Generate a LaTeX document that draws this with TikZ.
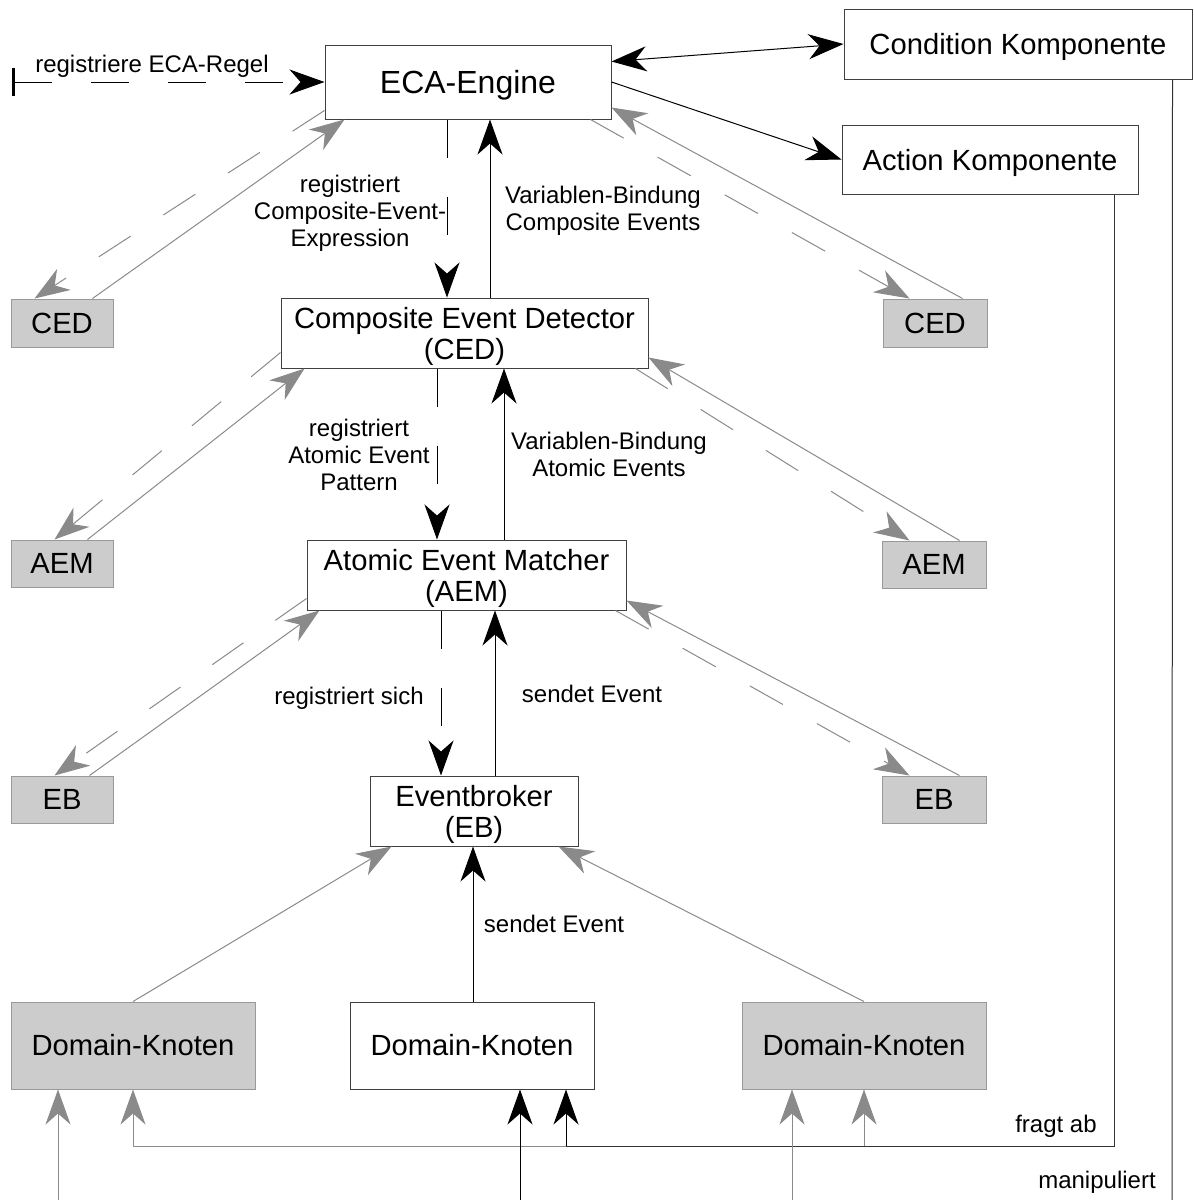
\documentclass[tikz,border=0pt]{standalone}
\usepackage{fontspec}
\setmainfont{Liberation Sans}
\usetikzlibrary{calc,arrows.meta}

\definecolor{boxGrey}{HTML}{CCCCCC}
\definecolor{boxLine}{HTML}{999999}
\definecolor{lineGrey}{HTML}{8A8A8A}

\tikzset{
	box/.style={draw=black!75, fill=white, line width=1pt, inner sep=0pt, align=center, font=\fontsize{29.2}{31}\selectfont},
	greybox/.style={box, draw=boxLine, fill=boxGrey},
	lbl/.style={inner sep=0pt, align=center, font=\fontsize{24}{27}\selectfont},
	pfeil/.style={line width=1pt, -{Stealth[length=35pt,width=25pt,inset=11pt]}},
	greypfeil/.style={pfeil, draw=lineGrey, line width=1pt},
	gestrichelt/.style={dash pattern=on 38pt off 39pt}
}

\begin{document}
\begin{tikzpicture}[x=1pt,y=-1pt]
			\useasboundingbox (0,0) rectangle (1194,1200);

%define nodes
			\node[box, minimum width=286pt, minimum height=74pt, text depth=0pt, font=\fontsize{32}{34}\selectfont] (eca) at (468,82) {ECA-Engine};
			\node[box, minimum width=348pt, minimum height=70pt, text depth=0pt] (cond) at (1018,44) {Condition Komponente};
			\node[box, minimum width=296pt, minimum height=69pt, text depth=0pt] (action) at (990,159.5) {Action Komponente};

			\node[box, minimum width=367pt, minimum height=70pt, text depth=0pt] (ced) at (464.5,333) {Composite Event Detector\\(CED)};
			\node[greybox, minimum width=102pt, minimum height=48pt] (cedL) at (62,323) {CED};
			\node[greybox, minimum width=104pt, minimum height=48pt] (cedR) at (935,323) {CED};

			\node[box, minimum width=319pt, minimum height=70pt, text depth=0pt] (aem) at (466.5,575) {Atomic Event Matcher\\(AEM)};
			\node[greybox, minimum width=102pt, minimum height=47pt] (aemL) at (62,563.5) {AEM};
			\node[greybox, minimum width=104pt, minimum height=47pt] (aemR) at (934,564.5) {AEM};

			\node[box, minimum width=208pt, minimum height=70pt, text depth=0pt] (eb) at (474,811) {Eventbroker\\(EB)};
			\node[greybox, minimum width=102pt, minimum height=47pt] (ebL) at (62,799.5) {EB};
			\node[greybox, minimum width=104pt, minimum height=47pt] (ebR) at (934,799.5) {EB};

			\node[greybox, minimum width=244pt, minimum height=87pt] (dkL) at (133,1045.5) {Domain-Knoten};
			\node[box, minimum width=244pt, minimum height=87pt] (dkM) at (472,1045.5) {Domain-Knoten};
			\node[greybox, minimum width=244pt, minimum height=87pt] (dkR) at (864,1045.5) {Domain-Knoten};

%define coordinates
			\coordinate (regStart) at (12,82);
			\coordinate (fragL) at (133,1146);
			\coordinate (fragM) at (566,1146);
			\coordinate (fragR) at (864,1146);
			\coordinate (maniL) at (58,1200);
			\coordinate (maniM) at (520,1200);
			\coordinate (maniR) at (792,1200);
			\coordinate (maniEnd) at (1172,1200);

%draw ECA-Engine arrows
			\draw[pfeil, gestrichelt, {Bar[width=28pt,line width=2.5pt]}-{Stealth[length=35pt,width=25pt,inset=11pt]}] (regStart) -- (eca.west);
			\draw[pfeil, {Stealth[length=35pt,width=25pt,inset=11pt]}-{Stealth[length=35pt,width=25pt,inset=11pt]}] ($(eca.north east)+(0,17)$) -- (cond.west);
			\draw[pfeil] (eca.east) -- (action.west);

			\draw[pfeil, gestrichelt] ($(eca.south)+(-21,0)$) -- ($(ced.north)+(-17.5,0)$);
			\draw[pfeil] ($(ced.north)+(25.5,0)$) -- ($(eca.south)+(22,0)$);
			\draw[greypfeil, gestrichelt] ($(eca.south west)+(0,-9)$) -- ($(cedL.north west)+(24,0)$);
			\draw[greypfeil] ($(cedL.north west)+(82,0)$) -- ($(eca.south west)+(20,0)$);
			\draw[greypfeil, gestrichelt] ($(eca.south east)+(-21,0)$) -- ($(cedR.north west)+(27,0)$);
			\draw[greypfeil] ($(cedR.north west)+(80,0)$) -- ($(eca.south east)+(0,-12)$);

%draw CED arrows
			\draw[pfeil, gestrichelt] ($(ced.south)+(-27.5,0)$) -- ($(aem.north)+(-29.5,0)$);
			\draw[pfeil] ($(aem.north)+(37.5,0)$) -- ($(ced.south)+(39.5,0)$);
			\draw[greypfeil, gestrichelt] ($(ced.south west)+(0,-16)$) -- ($(aemL.north west)+(44,0)$);
			\draw[greypfeil] ($(aemL.north west)+(77,0)$) -- ($(ced.south west)+(24,0)$);
			\draw[greypfeil, gestrichelt] ($(ced.south east)+(-13,0)$) -- ($(aemR.north west)+(28,0)$);
			\draw[greypfeil] ($(aemR.north west)+(78,0)$) -- ($(ced.south east)+(0,-11)$);

%draw AEM arrows
			\draw[pfeil, gestrichelt] ($(aem.south)+(-25.5,0)$) -- ($(eb.north)+(-33,0)$);
			\draw[pfeil] ($(eb.north)+(21,0)$) -- ($(aem.south)+(28.5,0)$);
			\draw[greypfeil, gestrichelt] ($(aem.south west)+(0,-12)$) -- ($(ebL.north west)+(44,0)$);
			\draw[greypfeil] ($(ebL.north west)+(79,0)$) -- ($(aem.south west)+(13,0)$);
			\draw[greypfeil, gestrichelt] ($(aem.south east)+(-11,0)$) -- ($(ebR.north west)+(28,0)$);
			\draw[greypfeil] ($(ebR.north west)+(78,0)$) -- ($(aem.south east)+(0,-10)$);

%draw eventbroker arrows
			\draw[greypfeil] (dkL.north) -- ($(eb.south west)+(22,0)$);
			\draw[pfeil] ($(dkM.north)+(1,0)$) -- ($(eb.south)+(-1,0)$);
			\draw[greypfeil] (dkR.north) -- ($(eb.south east)+(-20,0)$);

%draw fragt ab
			\draw[line width=1pt, black!80] ($(action.south east)+(-24,0)$) |- (fragM);
			\draw[line width=1pt, lineGrey] (fragM) -- (fragL);
			\draw[greypfeil] (fragL) -- (dkL.south);
			\draw[pfeil] (fragM) -- (fragM |- dkM.south);
			\draw[greypfeil] (fragR) -- (dkR.south);

%draw manipuliert
			\draw[line width=1pt, black!80] ($(cond.south east)+(-20,0)$) -- (maniEnd);
			\draw[greypfeil] (maniL) -- (maniL |- dkL.south);
			\draw[pfeil] (maniM) -- (maniM |- dkM.south);
			\draw[greypfeil] (maniR) -- (maniR |- dkR.south);

%draw labels
			\node[lbl] (lblRegel) at (152,66) {registriere ECA-Regel};
			\node[lbl] (lblCee) at (350,213) {registriert\\Composite-Event-\\Expression};
			\node[lbl] (lblVarCe) at (603,210.5) {Variablen-Bindung\\Composite Events};
			\node[lbl] (lblAep) at (359,454.5) {registriert\\Atomic Event\\Pattern};
			\node[lbl] (lblVarAe) at (609,454.5) {Variablen-Bindung\\Atomic Events};
			\node[lbl] (lblSich) at (349,698) {registriert sich};
			\node[lbl] (lblSendA) at (592,693.5) {sendet Event};
			\node[lbl] (lblSendB) at (554,923.5) {sendet Event};
			\node[lbl] (lblFrag) at (1056,1126) {fragt ab};
			\node[lbl] (lblMani) at (1097,1182) {manipuliert};

		\end{tikzpicture}
\end{document}
